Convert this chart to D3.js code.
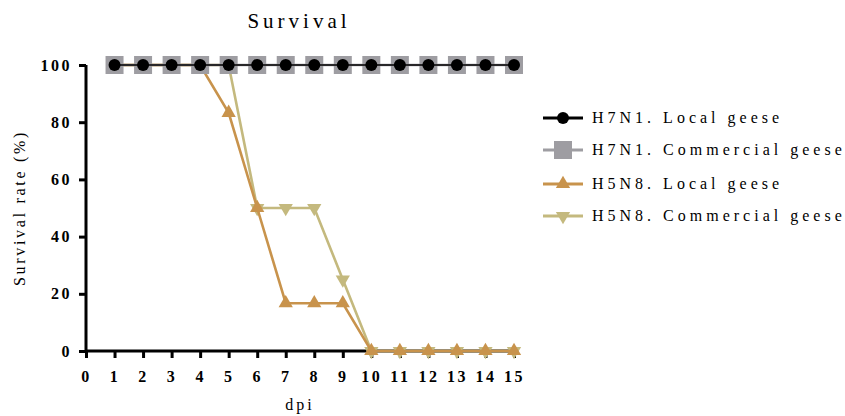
<!DOCTYPE html>
<html>
<head>
<meta charset="utf-8">
<script src="https://cdn.jsdelivr.net/npm/d3@7"></script>
<style>
  html, body { margin: 0; padding: 0; background: #fff; }
</style>
</head>
<body>
<svg id="chart" width="845" height="416"></svg>
<script>
// Days post infection
const days = [1, 2, 3, 4, 5, 6, 7, 8, 9, 10, 11, 12, 13, 14, 15];
// Survival rate (%) per group
const h7n1Local      = [100, 100, 100, 100, 100, 100, 100, 100, 100, 100, 100, 100, 100, 100, 100];
const h7n1Commercial = [100, 100, 100, 100, 100, 100, 100, 100, 100, 100, 100, 100, 100, 100, 100];
const h5n8Local      = [100, 100, 100, 100, 83.3, 50, 16.7, 16.7, 16.7, 0, 0, 0, 0, 0, 0];
const h5n8Commercial = [100, 100, 100, 100, 100, 50, 50, 50, 25, 0, 0, 0, 0, 0, 0];
const seriesNames = ["H7N1. Local geese", "H7N1. Commercial geese", "H5N8. Local geese", "H5N8. Commercial geese"];
const xTicks = d3.range(0, 16);
const yTicks = [0, 20, 40, 60, 80, 100];

const FONT = "'Liberation Serif'";

const svg = d3.select("#chart");
const x = d3.scaleLinear().domain([0, 15]).range([86, 514]);
const y = d3.scaleLinear().domain([0, 100]).range([351, 65]);

const series = [
  { name: seriesNames[3], values: h5n8Commercial, color: "#c4b97e", shape: "down" },
  { name: seriesNames[2], values: h5n8Local, color: "#c8934c", shape: "up" },
  { name: seriesNames[1], values: h7n1Commercial, color: "#9e9da2", shape: "square" },
  { name: seriesNames[0], values: h7n1Local, color: "#000000", shape: "circle" }
];

// Axes
const xAxis = svg.append("g").attr("transform", `translate(0,${y(0)})`)
  .call(d3.axisBottom(x).tickValues(xTicks).tickSize(7).tickPadding(13).tickFormat(d3.format("d")));
const yAxis = svg.append("g").attr("transform", `translate(${x(0)},0)`)
  .call(d3.axisLeft(y).tickValues(yTicks).tickSize(7).tickPadding(7));
[xAxis, yAxis].forEach(g => {
  g.select(".domain").attr("stroke", "#000").attr("stroke-width", 3);
  g.selectAll(".tick line").attr("stroke", "#000").attr("stroke-width", 3);
  g.selectAll(".tick text").attr("fill", "#000").attr("font-size", 16)
    .attr("font-weight", "bold").style("font-family", FONT).style("letter-spacing", "2.5px");
});
xAxis.select(".domain").attr("d", `M${x(0)},0H${x(15)}`);
yAxis.select(".domain").attr("d", `M0,${y(0) + 1.5}V${y(100)}`);

function marker(g, shape, color) {
  if (shape === "circle") {
    g.append("circle").attr("r", 6).attr("fill", color);
  } else if (shape === "square") {
    g.append("rect").attr("x", -9).attr("y", -9).attr("width", 18).attr("height", 18).attr("fill", color);
  } else if (shape === "up") {
    g.append("path").attr("d", d3.symbol(d3.symbolTriangle, 88)()).attr("fill", color);
  } else {
    g.append("path").attr("d", d3.symbol(d3.symbolTriangle, 88)()).attr("transform", "rotate(180)").attr("fill", color);
  }
}

const line = d3.line().x(d => x(d[0])).y(d => y(d[1]));
series.forEach(s => {
  const pts = days.map((d, i) => [d, s.values[i]]);
  svg.append("path").datum(pts).attr("d", line)
    .attr("fill", "none").attr("stroke", s.color)
    .attr("stroke-width", s.shape === "circle" ? 1.6 : 2.6);
  pts.forEach(p => {
    const g = svg.append("g").attr("transform", `translate(${x(p[0])},${y(p[1])})`);
    marker(g, s.shape, s.color);
  });
});

// Title and axis titles
svg.append("text").attr("x", 299).attr("y", 28).attr("text-anchor", "middle")
  .attr("font-size", 21).style("font-family", FONT).style("letter-spacing", "4px").text("Survival");
svg.append("text").attr("x", 300).attr("y", 410).attr("text-anchor", "middle")
  .attr("font-size", 16).style("font-family", FONT).style("letter-spacing", "3px").text("dpi");
svg.append("text").attr("transform", "translate(25,208) rotate(-90)").attr("text-anchor", "middle")
  .attr("font-size", 16).style("font-family", FONT).style("letter-spacing", "2.7px").text("Survival rate (%)");

// Legend
const legendOrder = [series[3], series[2], series[1], series[0]];
const ly = [118, 150, 184, 216];
legendOrder.forEach((s, i) => {
  const g = svg.append("g").attr("transform", `translate(563,${ly[i]})`);
  g.append("line").attr("x1", -20).attr("x2", 20).attr("stroke", s.color).attr("stroke-width", 3);
  marker(g, s.shape, s.color);
  svg.append("text").attr("x", 592).attr("y", ly[i] + 5).attr("font-size", 16)
    .style("font-family", FONT).style("letter-spacing", "4px").attr("fill", "#000").text(s.name);
});
</script>
</body>
</html>
